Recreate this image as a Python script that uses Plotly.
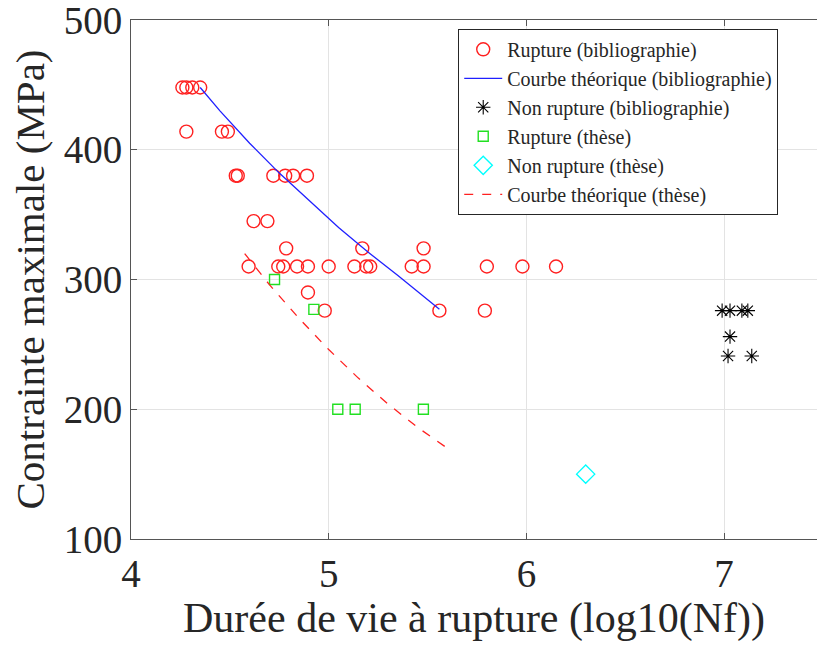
import plotly.graph_objects as go

# Rupture (bibliographie)
rup_bib_x = [4.26, 4.28, 4.31, 4.35,
             4.28, 4.46, 4.49,
             4.53, 4.54, 4.72, 4.78, 4.82, 4.89,
             4.62, 4.69,
             4.785, 5.17, 5.48,
             4.595, 4.745, 4.77, 4.84, 4.895, 5.00, 5.13, 5.19, 5.21, 5.42, 5.48, 5.80, 5.98, 6.15,
             4.895,
             4.98, 5.56, 5.79]
rup_bib_y = [448, 448, 448, 448,
             414, 414, 414,
             380, 380, 380, 380, 380, 380,
             345, 345,
             324, 324, 324,
             310, 310, 310, 310, 310, 310, 310, 310, 310, 310, 310, 310, 310, 310,
             290,
             276, 276, 276]

# Courbe théorique (bibliographie)
curve_bib_x = [4.35, 4.45, 4.6, 4.75, 4.9, 5.05, 5.2, 5.35, 5.56]
curve_bib_y = [448, 430, 405, 382, 361, 340, 321, 303, 277]

# Non rupture (bibliographie)
nonrup_bib_x = [6.99, 7.03, 7.09, 7.12, 7.03, 7.02, 7.14]
nonrup_bib_y = [276, 276, 276, 276, 256, 241, 241]

# Rupture (thèse)
rup_these_x = [4.726, 4.925, 5.046, 5.134, 5.479]
rup_these_y = [300, 277, 200, 200, 200]

# Non rupture (thèse)
nonrup_these_x = [6.30]
nonrup_these_y = [150]

# Courbe théorique (thèse)
curve_these_x = [4.575, 4.7, 4.85, 5.0, 5.15, 5.3, 5.45, 5.6]
curve_these_y = [320, 296, 270, 246, 224, 204, 186, 170]

FONT = "'Liberation Serif', 'Times New Roman', serif"

fig = go.Figure()
fig.add_trace(go.Scatter(x=rup_bib_x, y=rup_bib_y, mode="markers",
                         name="Rupture (bibliographie)",
                         marker=dict(symbol="circle-open", size=13, color="#ff2020",
                                     line=dict(width=1.4, color="#ff2020"))))
fig.add_trace(go.Scatter(x=curve_bib_x, y=curve_bib_y, mode="lines",
                         name="Courbe théorique (bibliographie)",
                         line=dict(color="#2020ff", width=1.3)))
fig.add_trace(go.Scatter(x=nonrup_bib_x, y=nonrup_bib_y, mode="markers",
                         name="Non rupture (bibliographie)",
                         marker=dict(symbol="asterisk-open", size=12, color="black",
                                     line=dict(width=1.1, color="black"))))
fig.add_trace(go.Scatter(x=rup_these_x, y=rup_these_y, mode="markers",
                         name="Rupture (thèse)",
                         marker=dict(symbol="square-open", size=10, color="#22e022",
                                     line=dict(width=1.4, color="#22e022"))))
fig.add_trace(go.Scatter(x=nonrup_these_x, y=nonrup_these_y, mode="markers",
                         name="Non rupture (thèse)",
                         marker=dict(symbol="diamond-open", size=14, color="#00ffff",
                                     line=dict(width=1.4, color="#00ffff"))))
fig.add_trace(go.Scatter(x=curve_these_x, y=curve_these_y, mode="lines",
                         name="Courbe théorique (thèse)",
                         line=dict(color="#ff2020", width=1.3, dash="dash")))

fig.update_layout(
    width=817, height=648,
    margin=dict(l=130.5, r=0, t=20, b=108.7, autoexpand=False),
    plot_bgcolor="white", paper_bgcolor="white",
    font=dict(family=FONT, color="#262626"),
    showlegend=True,
    legend=dict(x=0.477, y=0.983, xanchor="left", yanchor="top",
                bgcolor="white", bordercolor="#262626", borderwidth=1,
                font=dict(family=FONT, size=20, color="#262626"),
                tracegroupgap=0, itemwidth=38),
)
fig.update_xaxes(range=[4, 7.47], tickvals=[4, 5, 6, 7], ticktext=["4", "5", "6", "7"],
                 automargin=False, ticklabeloverflow="allow",
                 showgrid=True, gridcolor="#e3e3e3", gridwidth=1,
                 showline=True, linecolor="#555555", linewidth=1, mirror="ticks",
                 ticks="inside", ticklen=6, tickcolor="#555555",
                 zeroline=False,
                 tickfont=dict(family=FONT, size=39, color="#262626"),
                 title=dict(text="Durée de vie à rupture (log10(Nf))",
                            font=dict(family=FONT, size=42, color="#262626"), standoff=8))
fig.update_yaxes(range=[100, 500], tickvals=[100, 200, 300, 400, 500],
                 automargin=False, ticklabeloverflow="allow",
                 showgrid=True, gridcolor="#e3e3e3", gridwidth=1,
                 showline=True, linecolor="#555555", linewidth=1, mirror=False,
                 ticks="inside", ticklen=6, tickcolor="#555555",
                 zeroline=False,
                 tickfont=dict(family=FONT, size=39, color="#262626"),
                 title=dict(text="Contrainte maximale (MPa)",
                            font=dict(family=FONT, size=41, color="#262626"), standoff=6))

# remove the default page margin so the 817x648 figure fills the window exactly
fig.write_html("out.html", config={"displayModeBar": False},
               post_script="document.body.style.margin='0';document.body.style.overflow='hidden';")
